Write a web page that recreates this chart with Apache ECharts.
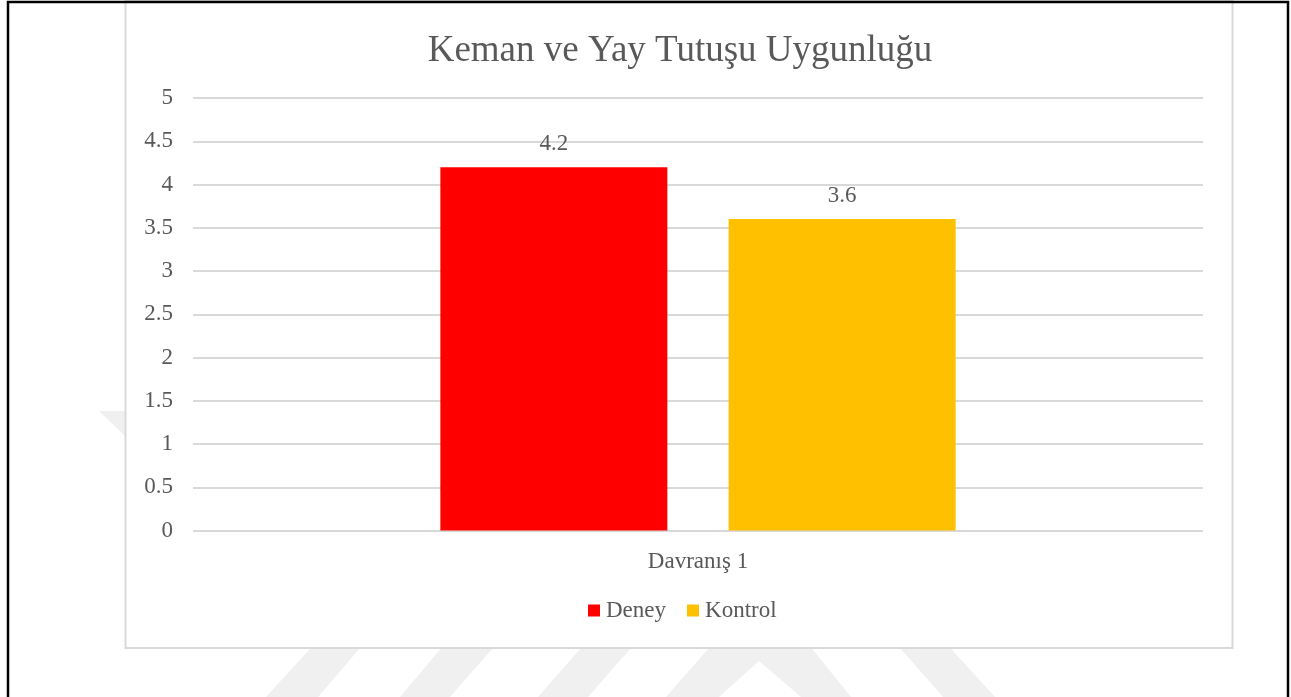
<!DOCTYPE html>
<html>
<head>
<meta charset="utf-8">
<title>Keman ve Yay Tutuşu Uygunluğu</title>
<script src="https://cdn.jsdelivr.net/npm/echarts@6/dist/echarts.min.js"></script>
<style>
  html, body { margin: 0; padding: 0; background: #fff; }
  #chart { width: 1291px; height: 697px; }
</style>
</head>
<body>
<div id="chart"></div>
<script>
// veriler
const categories = ["Davranış 1"];
const seriesNames = ["Deney", "Kontrol"];
const deney = [4.2];
const kontrol = [3.6];
const yTicks = [0, 0.5, 1, 1.5, 2, 2.5, 3, 3.5, 4, 4.5, 5];

const FONT = "'Liberation Serif', 'Times New Roman', serif";
const TEXT = "#595959";
const WM = "#f0f0f0";

let chart = echarts.init(document.getElementById("chart"));

chart.setOption({
  animation: false,
  title: {
    text: "Keman ve Yay Tutuşu Uygunluğu",
    left: 675,
    textAlign: "center",
    top: 28,
    textStyle: { fontFamily: FONT, fontSize: 37, fontWeight: "normal", color: TEXT }
  },
  legend: {
    data: seriesNames,
    left: 588,
    top: 599,
    padding: 0,
    icon: "rect",
    itemWidth: 12,
    itemHeight: 12,
    itemGap: 21,
    textStyle: { fontFamily: FONT, fontSize: 23, color: TEXT, padding: [0, 0, 0, 1] }
  },
  grid: { left: 193, right: 88, top: 98, bottom: 166.5 },
  xAxis: {
    type: "category",
    data: categories,
    axisLine: { show: false },
    axisTick: { show: false },
    axisLabel: { fontFamily: FONT, fontSize: 23, color: TEXT, margin: 20 }
  },
  yAxis: {
    type: "value",
    min: yTicks[0],
    max: yTicks[yTicks.length - 1],
    interval: 0.5,
    axisLine: { show: false },
    axisTick: { show: false },
    axisLabel: { fontFamily: FONT, fontSize: 23, color: TEXT, margin: 20 },
    splitLine: { lineStyle: { color: "#d9d9d9", width: 2 } }
  },
  series: [
    {
      name: seriesNames[0],
      type: "bar",
      data: deney,
      barWidth: 227,
      barGap: "27%",
      itemStyle: { color: "#ff0000" },
      label: { show: true, position: "top", distance: 12, fontFamily: FONT, fontSize: 23, color: TEXT }
    },
    {
      name: seriesNames[1],
      type: "bar",
      data: kontrol,
      barWidth: 227,
      itemStyle: { color: "#ffc000" },
      label: { show: true, position: "top", distance: 12, fontFamily: FONT, fontSize: 23, color: TEXT }
    }
  ],
  graphic: [
    // arka plan filigrani
    { type: "polygon", z: -20, silent: true, shape: { points: [[99, 411], [125, 411], [125, 436]] }, style: { fill: WM } },
    { type: "polygon", z: -20, silent: true, shape: { points: [[318, 640], [367, 640], [318, 697], [266, 697]] }, style: { fill: WM } },
    { type: "polygon", z: -20, silent: true, shape: { points: [[448, 640], [500, 640], [450, 697], [400, 697]] }, style: { fill: WM } },
    { type: "polygon", z: -20, silent: true, shape: { points: [[588, 640], [638, 640], [588, 697], [538, 697]] }, style: { fill: WM } },
    { type: "polygon", z: -20, silent: true, shape: { points: [[716, 640], [805, 640], [851, 697], [801, 697], [759, 661], [719, 697], [666, 697]] }, style: { fill: WM } },
    { type: "polygon", z: -20, silent: true, shape: { points: [[893, 640], [943, 640], [995, 697], [943, 697]] }, style: { fill: WM } },
    // grafik cercevesi
    { type: "rect", z: -10, silent: true, shape: { x: 125.5, y: 1, width: 1107, height: 647 }, style: { fill: "#fff", stroke: "#d9d9d9", lineWidth: 2 } },
    // sayfa kenarligi
    { type: "polyline", z: 10, silent: true, shape: { points: [[8, 697], [8, 2], [1288, 2], [1288, 697]] }, style: { fill: null, stroke: "#000", lineWidth: 2.5 } }
  ]
});
</script>
</body>
</html>
